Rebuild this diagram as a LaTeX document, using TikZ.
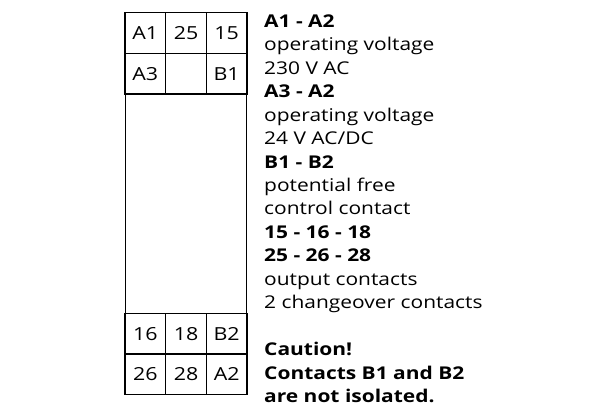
\documentclass[tikz,border=0pt]{standalone}
\usepackage{fontspec}
\setmainfont[FakeStretch=1.19]{Open Sans}
\begin{document}
\begin{tikzpicture}[x=1pt,y=-1pt,
  cell/.style={draw,line width=1.2pt,minimum width=40.67pt,minimum height=40.67pt,inner sep=0pt,
    font=\fontsize{18}{20}\selectfont},
  txt/.style={anchor=base west,inner sep=0pt,font=\fontsize{17.6}{20}\selectfont},
  hd/.style={txt,font=\fontsize{17.6}{20}\selectfont\bfseries}]
\useasboundingbox (0,0) rectangle (608,416);
\node[draw,line width=1.2pt,minimum width=121.67pt,minimum height=219.3pt,inner sep=0pt] (body) at (186,203.65) {};
\node[cell] (c11) at (145.33,33) {A1};
\node[cell] (c12) at (186,33) {25};
\node[cell] (c13) at (226.67,33) {15};
\node[cell] (c21) at (145.33,73.67) {A3};
\node[cell] (c22) at (186,73.67) {};
\node[cell] (c23) at (226.67,73.67) {B1};
\node[cell] (c31) at (145.33,333.67) {16};
\node[cell] (c32) at (186,333.67) {18};
\node[cell] (c33) at (226.67,333.67) {B2};
\node[cell] (c41) at (145.33,374.33) {26};
\node[cell] (c42) at (186,374.33) {28};
\node[cell] (c43) at (226.67,374.33) {A2};
\node[hd] (t1) at (264,27.3) {A1 - A2};
\node[txt] (t2) at (264,50.7) {operating voltage};
\node[txt] (t3) at (264,74.2) {230 V AC};
\node[hd] (t4) at (264,97.6) {A3 - A2};
\node[txt] (t5) at (264,121.1) {operating voltage};
\node[txt] (t6) at (264,144.5) {24 V AC/DC};
\node[hd] (t7) at (264,168) {B1 - B2};
\node[txt] (t8) at (264,191.4) {potential free};
\node[txt] (t9) at (264,214.9) {control contact};
\node[hd] (t10) at (264,238.3) {15 - 16 - 18};
\node[hd] (t11) at (264,261.8) {25 - 26 - 28};
\node[txt] (t12) at (264,285.2) {output contacts};
\node[txt] (t13) at (264,308.7) {2 changeover contacts};
\node[hd] (t14) at (264,355.6) {Caution!};
\node[hd] (t15) at (264,379) {Contacts B1 and B2};
\node[hd] (t16) at (264,402.2) {are not isolated.};
\end{tikzpicture}
\end{document}
